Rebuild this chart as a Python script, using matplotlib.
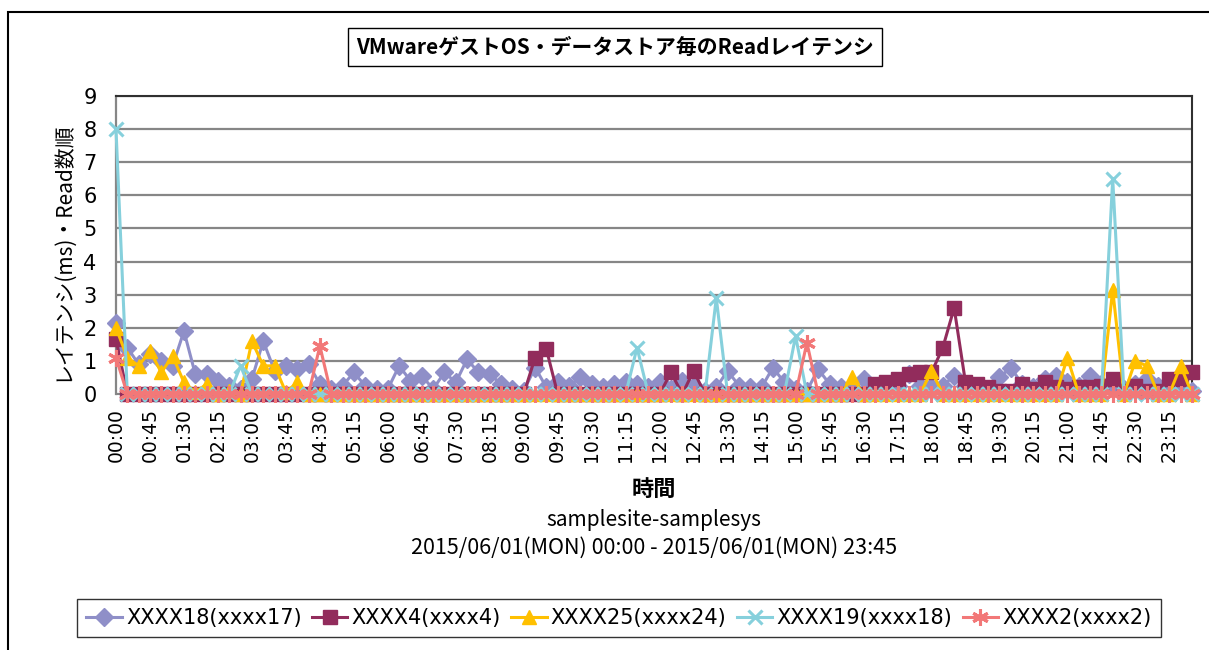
import matplotlib.pyplot as plt
from matplotlib.patches import Rectangle

plt.rcParams['font.family'] = ['Noto Sans CJK JP', 'DejaVu Sans']

# 15-minute slots, 00:00 .. 23:45
times = [f"{h:02d}:{m:02d}" for h in range(24) for m in (0, 15, 30, 45)]

xxxx18 = [2.15, 1.4, 0.9, 1.2, 1.0, 0.85, 1.9, 0.6, 0.6, 0.4, 0.25, 0.15,
          0.45, 1.6, 0.7, 0.85, 0.75, 0.9, 0.3, 0.15, 0.25, 0.65, 0.25, 0.15,
          0.15, 0.85, 0.4, 0.55, 0.15, 0.65, 0.35, 1.05, 0.65, 0.6, 0.3, 0.15,
          0.1, 0.8, 0.2, 0.35, 0.25, 0.5, 0.3, 0.2, 0.3, 0.35, 0.3, 0.2,
          0.35, 0.15, 0.4, 0.25, 0.1, 0.2, 0.7, 0.25, 0.2, 0.2, 0.8, 0.35,
          0.15, 0.1, 0.75, 0.3, 0.2, 0.2, 0.45, 0.25, 0.2, 0.25, 0.6, 0.25,
          0.2, 0.25, 0.55, 0.25, 0.15, 0.15, 0.5, 0.8, 0.3, 0.2, 0.45, 0.55,
          0.35, 0.25, 0.55, 0.3, 0.2, 0.15, 0.3, 0.45, 0.25, 0.15, 0.15, 0.1]
xxxx4 = [1.65] + [0.0] * 36 + [1.1, 1.35] + [0.0] * 10 + [0.65, 0.0, 0.7] + \
        [0.0] * 15 + [0.3, 0.35, 0.45, 0.6, 0.65, 0.65, 1.4, 2.6, 0.35, 0.3,
                      0.2, 0.1, 0.1, 0.3, 0.15, 0.35, 0.2, 0.15, 0.2, 0.2,
                      0.25, 0.45, 0.1, 0.25, 0.1, 0.1, 0.45, 0.45, 0.65]
xxxx25 = [2.0, 1.1, 0.85, 1.3, 0.65, 1.15, 0.35, 0.05, 0.3, 0.0, 0.1, 0.0,
          1.6, 0.85, 0.85, 0.05, 0.35] + [0.0] * 48 + [0.5] + [0.0] * 6 + \
         [0.7] + [0.0] * 11 + [1.1, 0.0, 0.0, 0.0, 3.15, 0.0, 1.0, 0.85,
                               0.0, 0.0, 0.85, 0.0]
xxxx19 = [8.0] + [0.0] * 10 + [0.85] + [0.0] * 34 + [1.4] + [0.0] * 6 + \
         [2.9] + [0.0] * 6 + [1.75] + [0.0] * 27 + [6.5] + [0.0] * 7
xxxx2 = [1.1] + [0.0] * 17 + [1.45] + [0.0] * 42 + [1.55] + [0.0] * 34

series = [
    ("XXXX18(xxxx17)", xxxx18, "#8F8FC8", "D", 9, 1.0),
    ("XXXX4(xxxx4)", xxxx4, "#922C5C", "s", 9.5, 1.0),
    ("XXXX25(xxxx24)", xxxx25, "#FFC000", "^", 10.5, 1.0),
    ("XXXX19(xxxx18)", xxxx19, "#86D0DC", "x", 10, 2.2),
    ("XXXX2(xxxx2)", xxxx2, "#F27878", (6, 2, 0), 12, 2.2),
]

fig = plt.figure(figsize=(12.09, 6.5), dpi=100)
fig.patch.set_facecolor("white")
ax = fig.add_axes([116 / 1209, 1 - 394 / 650, (1192 - 116) / 1209, (394 - 96) / 650])

x = list(range(len(times)))
for name, vals, col, mk, ms, mew in series:
    ax.plot(x, vals, color=col, lw=2.2, marker=mk, markersize=ms,
            markerfacecolor=col, markeredgecolor=col, markeredgewidth=mew,
            label=name, clip_on=False, zorder=3)

ax.set_xlim(0, len(times) - 1)
ax.set_ylim(0, 9)
ax.set_yticks(range(10))
ax.yaxis.grid(True, color="#868686", lw=1.6)
ax.set_axisbelow(True)
ax.set_xticks(x[::3])
ax.set_xticklabels(times[::3], rotation=90, fontsize=13.5, family="DejaVu Sans")
ax.tick_params(axis="y", length=0, labelsize=15, pad=14)
ax.tick_params(axis="x", length=0, pad=10)
for lbl in ax.get_yticklabels():
    lbl.set_family("DejaVu Sans")
ax.spines["left"].set_color("#868686")
ax.spines["left"].set_linewidth(1.6)
ax.spines["bottom"].set_color("#868686")
ax.spines["top"].set_color("#303030")
ax.spines["right"].set_color("#303030")
ax.spines["top"].set_linewidth(1.5)
ax.spines["right"].set_linewidth(1.5)

# outer chart frame
fig.patches.append(Rectangle((8 / 1209, -0.2), 1.2, 0.2 + 1 - 12 / 650, transform=fig.transFigure,
                             fill=False, ec="black", lw=1.5, clip_on=False))

fig.text(615 / 1209, 1 - 47 / 650, "VMwareゲストOS・データストア毎のReadレイテンシ",
         ha="center", va="center", fontsize=15, fontweight="bold",
         bbox=dict(boxstyle="square,pad=0.4", fc="white", ec="black", lw=1))
fig.text(62 / 1209, 1 - 251 / 650, "レイテンシ(ms)・Read数順", rotation=90,
         ha="center", va="center", fontsize=15)
fig.text(654 / 1209, 1 - 489 / 650, "時間", ha="center", va="center",
         fontsize=16, fontweight="bold")
fig.text(654 / 1209, 1 - 520 / 650, "samplesite-samplesys", ha="center", va="center",
         fontsize=15)
fig.text(654 / 1209, 1 - 548 / 650, "2015/06/01(MON) 00:00 - 2015/06/01(MON) 23:45",
         ha="center", va="center", fontsize=15.5)

leg = fig.legend(loc="center", bbox_to_anchor=(619 / 1209, 1 - 618 / 650), ncol=5,
                 frameon=True, fancybox=False, edgecolor="black",
                 handlelength=1.7, columnspacing=0.5, handletextpad=0.2,
                 borderpad=0.45, prop={'family': "DejaVu Sans", 'size': 15})
leg.get_frame().set_linewidth(1.0)

fig.savefig("out.png", dpi=100)
